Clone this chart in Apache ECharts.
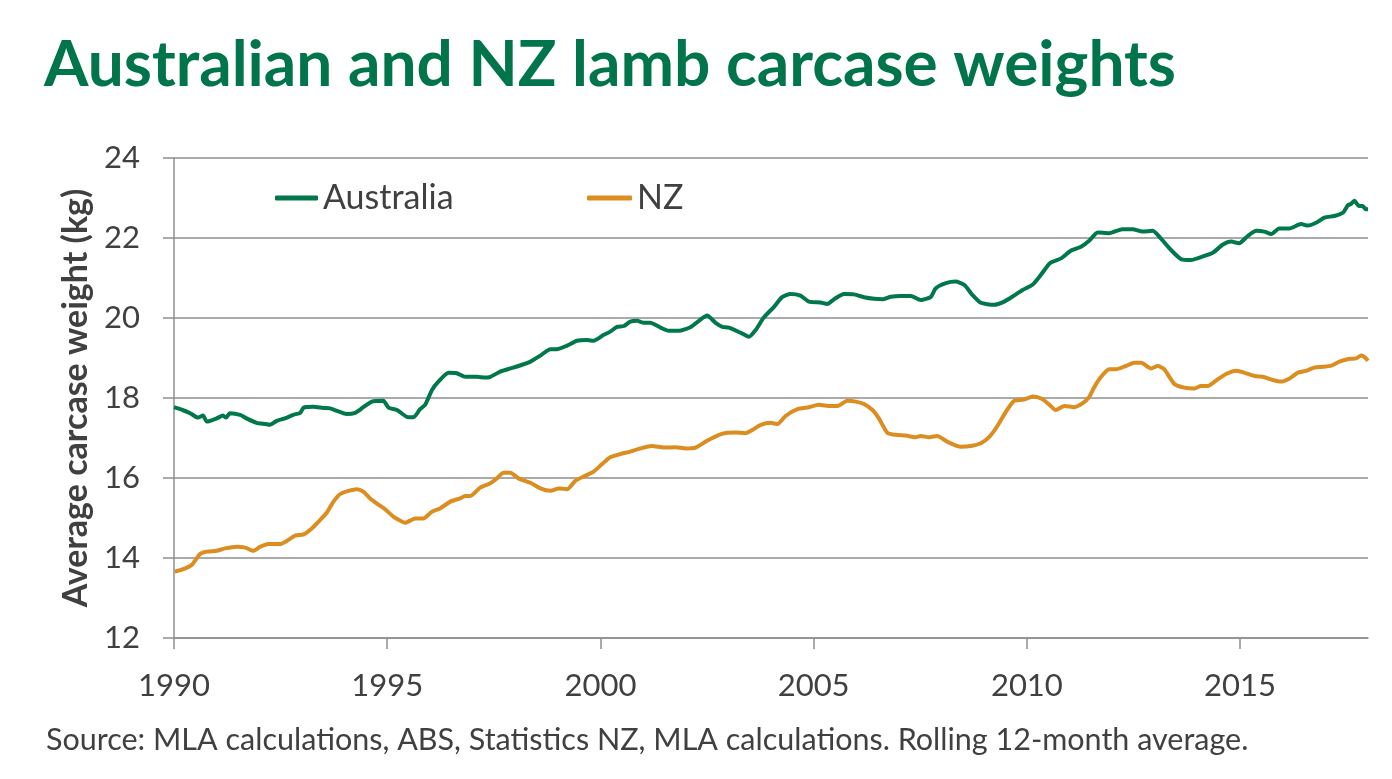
<!DOCTYPE html>
<html>
<head>
<meta charset="utf-8">
<script src="https://cdn.jsdelivr.net/npm/echarts@6/dist/echarts.min.js"></script>
<style>
html,body{margin:0;padding:0;background:#fff;}
#chart{width:1392px;height:779px;}
</style>
</head>
<body>
<div id="chart"></div>
<script>
const ausYears = [1990.0,1990.2,1990.38,1990.56,1990.68,1990.77,1991.0,1991.15,1991.22,1991.31,1991.55,1991.7,1991.94,1992.14,1992.25,1992.41,1992.6,1992.8,1992.96,1993.04,1993.27,1993.5,1993.66,1993.82,1994.05,1994.25,1994.44,1994.64,1994.91,1995.03,1995.23,1995.46,1995.62,1995.77,1995.89,1996.05,1996.2,1996.44,1996.63,1996.83,1997.1,1997.3,1997.42,1997.65,1997.89,1998.08,1998.36,1998.59,1998.83,1998.98,1999.22,1999.45,1999.69,1999.84,2000.08,2000.23,2000.39,2000.55,2000.7,2000.86,2001.02,2001.17,2001.41,2001.6,2001.84,2002.11,2002.31,2002.5,2002.7,2002.86,2003.01,2003.29,2003.48,2003.64,2003.83,2004.07,2004.26,2004.46,2004.69,2004.89,2005.16,2005.32,2005.48,2005.71,2005.95,2006.18,2006.42,2006.61,2006.81,2007.04,2007.28,2007.51,2007.75,2007.86,2008.1,2008.33,2008.53,2008.72,2008.92,2009.23,2009.47,2009.7,2009.9,2010.13,2010.33,2010.54,2010.8,2011.03,2011.27,2011.46,2011.66,2011.93,2012.24,2012.48,2012.71,2012.95,2013.14,2013.38,2013.62,2013.85,2014.08,2014.36,2014.59,2014.79,2014.98,2015.18,2015.38,2015.57,2015.73,2015.92,2016.16,2016.43,2016.59,2016.78,2016.98,2017.21,2017.41,2017.53,2017.6,2017.68,2017.79,2017.87,2017.95,2018.0];
const ausValues = [17.77,17.7,17.62,17.51,17.56,17.41,17.49,17.56,17.51,17.62,17.58,17.49,17.38,17.35,17.33,17.43,17.49,17.58,17.63,17.76,17.78,17.75,17.74,17.68,17.6,17.63,17.77,17.91,17.93,17.76,17.7,17.53,17.52,17.72,17.83,18.2,18.41,18.63,18.62,18.53,18.53,18.51,18.53,18.66,18.74,18.8,18.91,19.06,19.22,19.22,19.31,19.43,19.45,19.43,19.58,19.66,19.78,19.8,19.91,19.93,19.88,19.88,19.76,19.68,19.68,19.77,19.93,20.06,19.88,19.78,19.76,19.63,19.53,19.7,20.01,20.28,20.52,20.6,20.56,20.41,20.39,20.35,20.47,20.6,20.59,20.52,20.48,20.47,20.53,20.55,20.55,20.45,20.53,20.74,20.87,20.91,20.83,20.58,20.38,20.33,20.41,20.56,20.7,20.83,21.08,21.37,21.49,21.68,21.78,21.93,22.14,22.12,22.22,22.22,22.16,22.18,21.99,21.7,21.47,21.45,21.52,21.63,21.83,21.91,21.87,22.05,22.18,22.16,22.1,22.24,22.24,22.35,22.31,22.38,22.51,22.55,22.63,22.82,22.85,22.93,22.8,22.8,22.72,22.72];

const nzYears = [1990.02,1990.22,1990.42,1990.61,1990.77,1991.0,1991.2,1991.47,1991.67,1991.86,1992.02,1992.21,1992.49,1992.65,1992.84,1993.04,1993.23,1993.39,1993.58,1993.74,1993.9,1994.09,1994.29,1994.44,1994.6,1994.8,1994.95,1995.15,1995.31,1995.42,1995.66,1995.85,1996.05,1996.24,1996.48,1996.71,1996.83,1996.95,1997.18,1997.42,1997.57,1997.73,1997.89,1998.08,1998.36,1998.59,1998.83,1999.02,1999.22,1999.41,1999.65,1999.84,2000.04,2000.23,2000.47,2000.7,2000.94,2001.21,2001.49,2001.76,2002.0,2002.23,2002.5,2002.78,2002.97,2003.17,2003.4,2003.56,2003.76,2003.99,2004.15,2004.34,2004.62,2004.89,2005.12,2005.4,2005.56,2005.79,2005.99,2006.18,2006.38,2006.53,2006.73,2006.92,2007.16,2007.39,2007.51,2007.71,2007.9,2008.13,2008.45,2008.69,2008.92,2009.12,2009.31,2009.51,2009.7,2009.92,2010.15,2010.35,2010.52,2010.68,2010.88,2011.11,2011.31,2011.46,2011.58,2011.74,2011.93,2012.09,2012.32,2012.52,2012.68,2012.91,2013.07,2013.22,2013.46,2013.69,2013.93,2014.08,2014.24,2014.48,2014.67,2014.91,2015.11,2015.34,2015.57,2015.77,2015.96,2016.16,2016.35,2016.55,2016.74,2016.94,2017.14,2017.33,2017.57,2017.72,2017.84,2017.92,2018.0];
const nzValues = [13.66,13.72,13.83,14.1,14.16,14.18,14.24,14.28,14.26,14.18,14.28,14.35,14.35,14.43,14.56,14.59,14.74,14.91,15.13,15.41,15.6,15.68,15.72,15.66,15.49,15.33,15.22,15.03,14.93,14.88,14.99,14.99,15.16,15.24,15.41,15.49,15.55,15.55,15.76,15.87,15.99,16.13,16.13,15.99,15.88,15.74,15.68,15.74,15.72,15.93,16.06,16.16,16.35,16.52,16.6,16.66,16.74,16.8,16.76,16.77,16.74,16.76,16.93,17.08,17.13,17.14,17.12,17.2,17.33,17.38,17.35,17.55,17.72,17.77,17.83,17.8,17.8,17.93,17.91,17.85,17.7,17.49,17.13,17.08,17.06,17.02,17.05,17.02,17.05,16.91,16.78,16.8,16.87,17.03,17.3,17.66,17.93,17.96,18.04,17.98,17.84,17.7,17.8,17.77,17.87,18.02,18.27,18.53,18.72,18.72,18.8,18.88,18.88,18.74,18.8,18.72,18.35,18.26,18.24,18.3,18.3,18.47,18.6,18.68,18.63,18.55,18.52,18.45,18.41,18.49,18.63,18.68,18.76,18.78,18.81,18.91,18.98,18.99,19.06,19.02,18.93];

const yTicks = [12,14,16,18,20,22,24];
const xTicks = [1990,1995,2000,2005,2010,2015];

const titleText = 'Australian and NZ lamb carcase weights';
const yName = 'Average carcase weight (kg)';
const sourceText = 'Source: MLA calculations, ABS, Statistics NZ, MLA calculations. Rolling 12-month average.';
const seriesNames = ['Australia','NZ'];
const colors = ['#00784c','#dc8d1f'];

const FONT = 'Lato';
const chart = echarts.init(document.getElementById('chart'));
const pair = (xs, vs) => xs.map((x,i)=>[x, vs[i]]);
const legendText = {color:'#404040', fontSize:34, fontFamily:FONT};

chart.setOption({
  animation:false,
  backgroundColor:'#fff',
  title:{
    text:titleText, left:39, top:28,
    textStyle:{color:'#00744a', fontSize:64, fontWeight:'bold', fontFamily:FONT}
  },
  legend:[
    {data:[seriesNames[0]], left:270, top:176, icon:'roundRect', itemWidth:43, itemHeight:5, itemGap:0, textStyle:legendText},
    {data:[seriesNames[1]], left:582, top:176, icon:'roundRect', itemWidth:45, itemHeight:5, itemGap:0, textStyle:legendText}
  ],
  grid:{left:174, right:24, top:158, bottom:141},
  xAxis:{
    type:'value', min:1990, max:2018, interval:5,
    axisLine:{show:true, lineStyle:{color:'#8e8e8e', width:1.5}},
    axisTick:{show:true, length:11, lineStyle:{color:'#8e8e8e', width:1.5}},
    splitLine:{show:false},
    axisLabel:{color:'#404040', fontSize:31, fontFamily:FONT, margin:32, showMaxLabel:false,
      formatter:v=>xTicks.includes(v)?String(v):''}
  },
  yAxis:{
    type:'value', min:12, max:24, interval:2,
    name:yName, nameLocation:'middle', nameGap:80, nameRotate:90,
    nameTextStyle:{color:'#404040', fontSize:34, fontWeight:'bold', fontFamily:FONT},
    axisLine:{show:true, lineStyle:{color:'#8e8e8e', width:1.5}},
    axisTick:{show:true, inside:false, length:11, lineStyle:{color:'#8e8e8e', width:1.5}},
    splitLine:{show:true, lineStyle:{color:'#8e8e8e', width:1.5}},
    axisLabel:{color:'#404040', fontSize:31, fontFamily:FONT, margin:34,
      formatter:v=>yTicks.includes(v)?String(v):''}
  },
  series:[
    {name:seriesNames[0], type:'line', data:pair(ausYears, ausValues), showSymbol:false, symbol:'none',
      smooth:0.2, lineStyle:{color:colors[0], width:4}, itemStyle:{color:colors[0]}},
    {name:seriesNames[1], type:'line', data:pair(nzYears, nzValues), showSymbol:false, symbol:'none',
      smooth:0.2, lineStyle:{color:colors[1], width:4}, itemStyle:{color:colors[1]}}
  ],
  graphic:[
    {type:'text', left:46, top:725, style:{text:sourceText, fill:'#404040', fontSize:30.5, fontFamily:FONT}}
  ]
});
</script>
</body>
</html>
